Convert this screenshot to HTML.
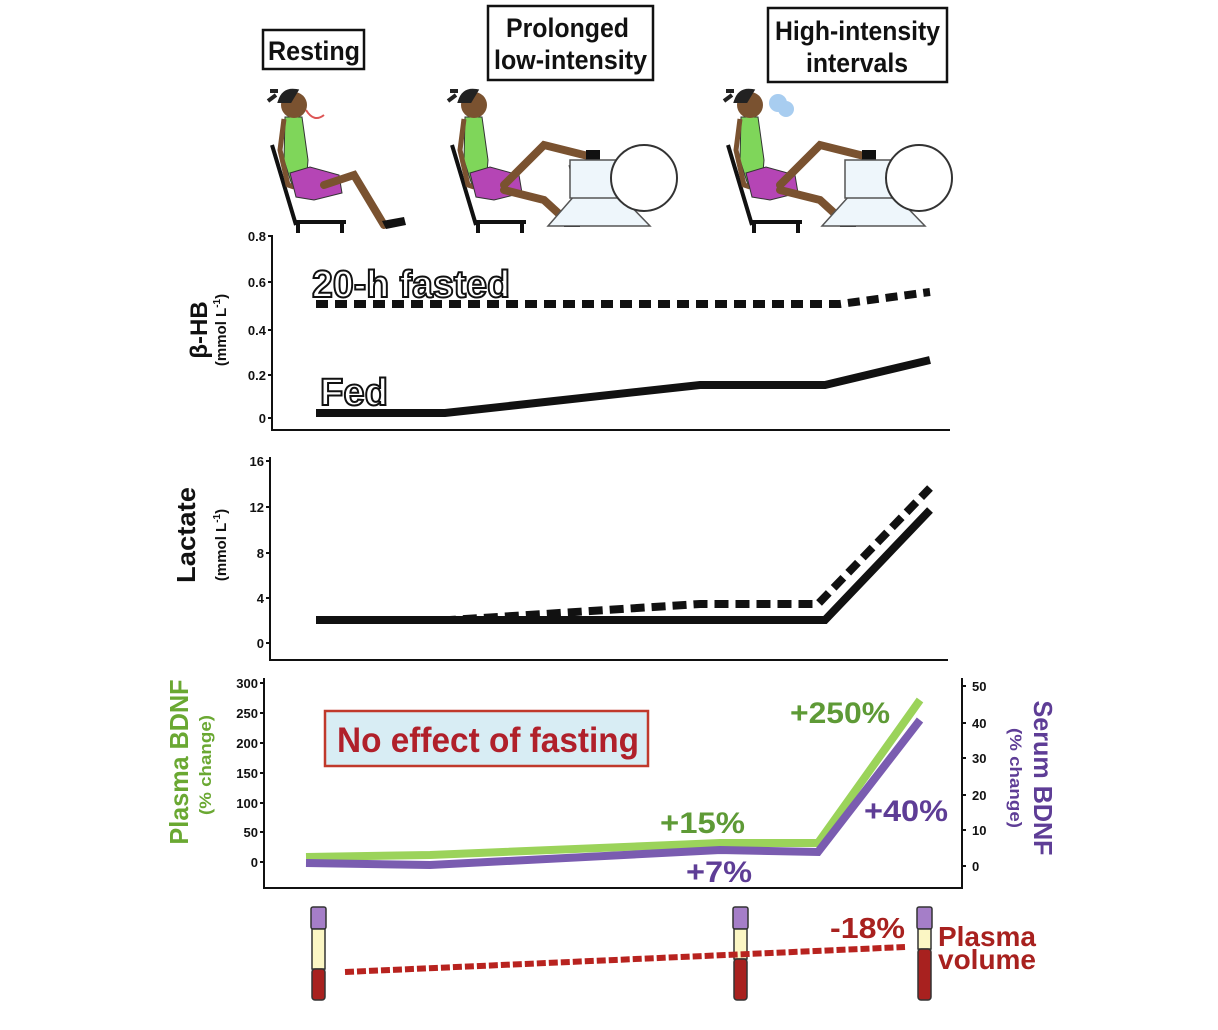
<!DOCTYPE html>
<html><head><meta charset="utf-8"><style>
body{margin:0;background:#fff;}
svg{display:block;font-family:"Liberation Sans",Arial,sans-serif;}
.t{font-weight:bold;font-size:13px;fill:#111}
</style></head><body>
<svg width="1218" height="1030" viewBox="0 0 1218 1030" xmlns="http://www.w3.org/2000/svg">
<defs>
<g id="person">
 <path d="M-22,40 L2,120 M0,117 L52,117 M4,117 L4,128 M48,117 L48,128" stroke="#111" stroke-width="4" fill="none"/>
 <path d="M-9,12 L8,12 L14,55 L12,80 L-2,80 L-10,55 Z" fill="#7fd65a" stroke="#333" stroke-width="1"/>
 <path d="M-10,14 L-14,45 L-6,80 L0,82" stroke="#7a5230" stroke-width="5" fill="none"/>
 <path d="M-4,68 L16,62 L45,70 L48,88 L20,95 L2,92 Z" fill="#b545b5" stroke="#333" stroke-width="1"/>
 <circle cx="0" cy="0" r="13" fill="#7a5230"/>
 <path d="M-14,-4 Q-10,-16 2,-14 L-4,-4 Z M-18,-10 L-26,-4 M-16,-14 L-24,-14" stroke="#222" stroke-width="4" fill="#222"/>
</g>
</defs>

<rect x="263" y="30" width="101" height="39" fill="#fff" stroke="#111" stroke-width="2.5"/>
<text x="268" y="60" font-size="27" font-weight="bold" fill="#111" textLength="92" lengthAdjust="spacingAndGlyphs">Resting</text>
<rect x="488" y="6" width="165" height="74" fill="#fff" stroke="#111" stroke-width="2.5"/>
<text x="506" y="37" font-size="27" font-weight="bold" fill="#111" textLength="123" lengthAdjust="spacingAndGlyphs">Prolonged</text>
<text x="494" y="69" font-size="27" font-weight="bold" fill="#111" textLength="153" lengthAdjust="spacingAndGlyphs">low-intensity</text>
<rect x="768" y="8" width="179" height="74" fill="#fff" stroke="#111" stroke-width="2.5"/>
<text x="775" y="40" font-size="27" font-weight="bold" fill="#111" textLength="165" lengthAdjust="spacingAndGlyphs">High-intensity</text>
<text x="806" y="72" font-size="27" font-weight="bold" fill="#111" textLength="102" lengthAdjust="spacingAndGlyphs">intervals</text>

<g transform="translate(294,105)"><use href="#person"/>
 <path d="M30,80 L60,70 L90,120" stroke="#7a5230" stroke-width="8" fill="none" stroke-linecap="round"/>
 <path d="M88,116 L110,112 L112,120 L92,124Z" fill="#111"/>
 <path d="M12,5 Q20,18 30,10" stroke="#d55" stroke-width="2" fill="none"/></g>
<g transform="translate(474,105)"><use href="#person"/>
 <path d="M30,80 L70,40 L118,52" stroke="#7a5230" stroke-width="8" fill="none" stroke-linecap="round"/>
 <path d="M30,85 L70,95 L95,118" stroke="#7a5230" stroke-width="8" fill="none" stroke-linecap="round"/>
 <path d="M112,45 L126,45 L126,58 L112,58Z M90,112 L106,112 L106,122 L90,122Z" fill="#111"/>
 <path d="M96,60 L110,120" stroke="#222" stroke-width="3"/></g>
<g transform="translate(750,105)"><use href="#person"/>
 <path d="M30,80 L70,40 L118,52" stroke="#7a5230" stroke-width="8" fill="none" stroke-linecap="round"/>
 <path d="M30,85 L70,95 L95,118" stroke="#7a5230" stroke-width="8" fill="none" stroke-linecap="round"/>
 <path d="M112,45 L126,45 L126,58 L112,58Z M90,112 L106,112 L106,122 L90,122Z" fill="#111"/>
 <path d="M96,60 L110,120" stroke="#222" stroke-width="3"/>
 <circle cx="28" cy="-2" r="9" fill="#a8cdf0"/><circle cx="36" cy="4" r="8" fill="#a8cdf0"/></g>
<g fill="#eef6fb" stroke="#555" stroke-width="1.5">
 <path d="M548,226 L650,226 L620,195 L575,195Z"/><rect x="570" y="160" width="50" height="38"/>
 <circle cx="644" cy="178" r="33" fill="#fff" stroke="#333" stroke-width="2"/>
 <path d="M822,226 L925,226 L895,195 L850,195Z"/><rect x="845" y="160" width="50" height="38"/>
 <circle cx="919" cy="178" r="33" fill="#fff" stroke="#333" stroke-width="2"/>
</g>

<!-- Panel 1 -->
<g stroke="#111" stroke-width="2" fill="none">
 <path d="M272,235 L272,430 L950,430"/>
 <path d="M268,236h4M268,282h4M268,330h4M268,375h4M268,418h4"/>
</g>
<g text-anchor="end"><text x="266" y="241" class="t">0.8</text><text x="266" y="287" class="t">0.6</text><text x="266" y="335" class="t">0.4</text><text x="266" y="380" class="t">0.2</text><text x="266" y="423" class="t">0</text></g>
<text transform="translate(207,330) rotate(-90)" text-anchor="middle" font-size="24" font-weight="bold" fill="#111">β-HB</text>
<text transform="translate(226,330) rotate(-90)" text-anchor="middle" font-size="15" font-weight="bold" fill="#111">(mmol L<tspan font-size="10" dy="-6">-1</tspan><tspan dy="6">)</tspan></text>
<path d="M316,304 L840,304 L930,292" stroke="#111" stroke-width="8" fill="none" stroke-dasharray="12,7"/>
<path d="M316,413 L445,413 L700,385 L825,385 L930,360" stroke="#111" stroke-width="8" fill="none"/>
<text x="312" y="297" font-size="38" font-weight="bold" fill="#fff" stroke="#111" stroke-width="2" textLength="198" lengthAdjust="spacingAndGlyphs">20-h fasted</text>
<text x="320" y="405" font-size="38" font-weight="bold" fill="#fff" stroke="#111" stroke-width="2" textLength="68" lengthAdjust="spacingAndGlyphs">Fed</text>

<!-- Panel 2 -->
<g stroke="#111" stroke-width="2" fill="none">
 <path d="M270,457 L270,660 L948,660"/>
 <path d="M266,461h4M266,507h4M266,553h4M266,598h4M266,643h4"/>
</g>
<g text-anchor="end"><text x="264" y="466" class="t">16</text><text x="264" y="512" class="t">12</text><text x="264" y="558" class="t">8</text><text x="264" y="603" class="t">4</text><text x="264" y="648" class="t">0</text></g>
<text transform="translate(195,535) rotate(-90)" text-anchor="middle" font-size="26" font-weight="bold" fill="#111" textLength="96" lengthAdjust="spacingAndGlyphs">Lactate</text>
<text transform="translate(226,545) rotate(-90)" text-anchor="middle" font-size="15" font-weight="bold" fill="#111">(mmol L<tspan font-size="10" dy="-6">-1</tspan><tspan dy="6">)</tspan></text>
<path d="M316,620 L450,620 L700,604 L818,604 L930,488" stroke="#111" stroke-width="8" fill="none" stroke-dasharray="14,7"/>
<path d="M316,620 L825,620 L930,510" stroke="#111" stroke-width="8" fill="none"/>

<!-- Panel 3 -->
<g stroke="#111" stroke-width="2" fill="none">
 <path d="M264,678 L264,888 L962,888 L962,678"/>
 <path d="M260,683h4M260,713h4M260,743h4M260,773h4M260,803h4M260,832h4M260,862h4"/>
 <path d="M962,686h4M962,723h4M962,758h4M962,795h4M962,830h4M962,866h4"/>
</g>
<g text-anchor="end"><text x="258" y="688" class="t">300</text><text x="258" y="718" class="t">250</text><text x="258" y="748" class="t">200</text><text x="258" y="778" class="t">150</text><text x="258" y="808" class="t">100</text><text x="258" y="837" class="t">50</text><text x="258" y="867" class="t">0</text></g>
<g><text x="972" y="691" class="t">50</text><text x="972" y="728" class="t">40</text><text x="972" y="763" class="t">30</text><text x="972" y="800" class="t">20</text><text x="972" y="835" class="t">10</text><text x="972" y="871" class="t">0</text></g>
<text transform="translate(188,762) rotate(-90)" text-anchor="middle" font-size="26" font-weight="bold" fill="#6aa832" textLength="165" lengthAdjust="spacingAndGlyphs">Plasma BDNF</text>
<text transform="translate(211,765) rotate(-90)" text-anchor="middle" font-size="17" font-weight="bold" fill="#6aa832" textLength="100" lengthAdjust="spacingAndGlyphs">(% change)</text>
<text transform="translate(1034,778) rotate(90)" text-anchor="middle" font-size="26" font-weight="bold" fill="#5e3d96" textLength="155" lengthAdjust="spacingAndGlyphs">Serum BDNF</text>
<text transform="translate(1010,778) rotate(90)" text-anchor="middle" font-size="17" font-weight="bold" fill="#5e3d96" textLength="100" lengthAdjust="spacingAndGlyphs">(% change)</text>
<rect x="325" y="711" width="323" height="55" fill="#d8edf4" stroke="#c0392b" stroke-width="2.5"/>
<text x="337" y="752" font-size="35" font-weight="bold" fill="#b0202a" textLength="302" lengthAdjust="spacingAndGlyphs">No effect of fasting</text>
<path d="M306,857 L430,855 L720,843 L818,843 L920,700" stroke="#9bd35a" stroke-width="8" fill="none"/>
<path d="M306,863 L430,865 L720,850 L818,852 L920,720" stroke="#7a5cb0" stroke-width="8" fill="none"/>
<text x="790" y="723" font-size="30" font-weight="bold" fill="#5e9a36" textLength="100" lengthAdjust="spacingAndGlyphs">+250%</text>
<text x="660" y="833" font-size="30" font-weight="bold" fill="#5e9a36" textLength="85" lengthAdjust="spacingAndGlyphs">+15%</text>
<text x="864" y="821" font-size="30" font-weight="bold" fill="#5e3d96" textLength="84" lengthAdjust="spacingAndGlyphs">+40%</text>
<text x="686" y="882" font-size="30" font-weight="bold" fill="#5e3d96" textLength="66" lengthAdjust="spacingAndGlyphs">+7%</text>

<g stroke="#333" stroke-width="1.5">
 <rect x="311" y="907" width="15" height="22" rx="2" fill="#a57ec8"/>
 <rect x="312" y="929" width="13" height="40" fill="#fbf6c4"/>
 <rect x="312" y="969" width="13" height="31" rx="3" fill="#a8211f"/>
 <rect x="733" y="907" width="15" height="22" rx="2" fill="#a57ec8"/>
 <rect x="734" y="929" width="13" height="30" fill="#fbf6c4"/>
 <rect x="734" y="959" width="13" height="41" rx="3" fill="#a8211f"/>
 <rect x="917" y="907" width="15" height="22" rx="2" fill="#a57ec8"/>
 <rect x="918" y="929" width="13" height="20" fill="#fbf6c4"/>
 <rect x="918" y="949" width="13" height="51" rx="3" fill="#a8211f"/>
</g>
<path d="M345,972 L905,947" stroke="#b8231f" stroke-width="6" stroke-dasharray="9,3" fill="none"/>
<text x="830" y="938" font-size="29" font-weight="bold" fill="#a8211f" textLength="75" lengthAdjust="spacingAndGlyphs">-18%</text>
<text x="938" y="946" font-size="28" font-weight="bold" fill="#a8211f" textLength="98" lengthAdjust="spacingAndGlyphs">Plasma</text>
<text x="938" y="969" font-size="28" font-weight="bold" fill="#a8211f" textLength="98" lengthAdjust="spacingAndGlyphs">volume</text>
</svg>
</body></html>
